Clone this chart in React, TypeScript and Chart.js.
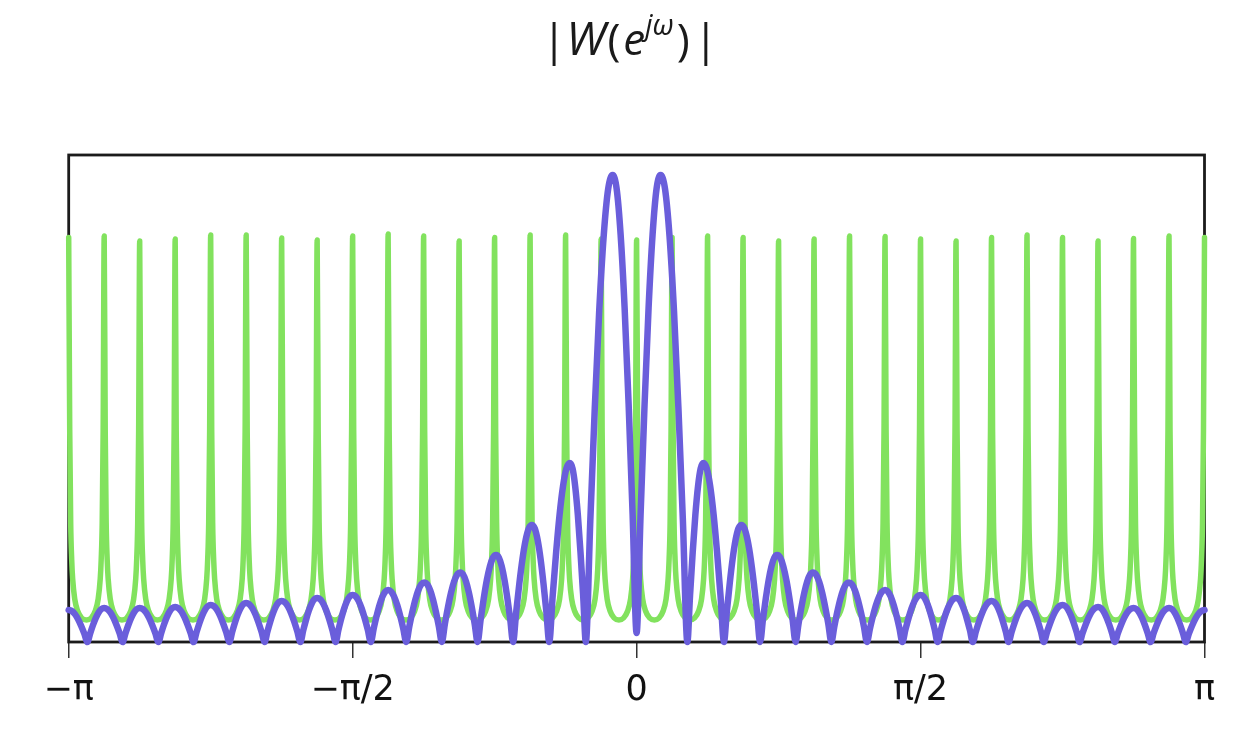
import React, { useEffect, useRef } from 'react';
import { Chart, registerables } from 'chart.js';

Chart.register(...registerables);

// x axis is in units of π (from −π to π)
const tickValues = [-1, -0.5, 0, 0.5, 1];
const tickLabels = ['−π', '−π/2', '0', 'π/2', 'π'];

// Green series: comb of narrow resonance peaks at k·π/16
const greenPeakX = [
  -1, -0.9375, -0.875, -0.8125, -0.75, -0.6875, -0.625, -0.5625, -0.5, -0.4375, -0.375,
  -0.3125, -0.25, -0.1875, -0.125, -0.0625, 0, 0.0625, 0.125, 0.1875, 0.25, 0.3125, 0.375,
  0.4375, 0.5, 0.5625, 0.625, 0.6875, 0.75, 0.8125, 0.875, 0.9375, 1,
];
const greenPeakY = [
  404.5, 406, 401, 403, 407, 407, 404, 402, 406, 408, 406, 401, 404.5, 407, 407, 403, 402,
  404.5, 406, 404.5, 401, 403, 406, 405.6, 403, 401, 404.5, 407, 404.5, 401, 403.5, 406, 404.5,
];
// shape of each green peak's flanks (offset from the peak, value)
const greenFlankOffset = [0.0018, 0.0035, 0.0053, 0.007, 0.0106, 0.0158, 0.0229];
const greenFlankY = [212, 119, 82, 63, 43, 31, 24];
const greenValleyOffset = 0.03125;
const greenValleyY = 22;

// Purple series (right half; the left half is its mirror image)
const purpleTroughX = [0, 0.0894, 0.1538, 0.2175, 0.28, 0.343, 0.4056, 0.468, 0.53, 0.592, 0.655, 0.717, 0.78, 0.842, 0.905, 0.967];
const purpleTroughY = [9, 0, 0, 0, 0, 0, 0, 0, 0, 0, 0, 0, 0, 0, 0, 0];
const purplePeakX = [0.0422, 0.1175, 0.1844, 0.2475, 0.3106, 0.3738, 0.4375, 0.5, 0.5625, 0.625, 0.6875, 0.75, 0.8125, 0.875, 0.9375, 1.0];
const purplePeakY = [467, 179, 117, 87, 69.5, 59.5, 52, 47, 44, 41, 39, 37, 35, 34, 34, 32];
// lobe outline between a trough and a peak (fraction of the way, fraction of the rise)
const archT = [0.167, 0.333, 0.5, 0.667, 0.833];
const archF = [0.26, 0.5, 0.71, 0.87, 0.97];

const GREEN = '#82e25e';
const PURPLE = '#6a5edb';

type P = { x: number; y: number };

function buildGreen(): P[] {
  const pts: P[] = [];
  const n = greenPeakX.length;
  for (let i = 0; i < n; i++) {
    const x = greenPeakX[i];
    if (i > 0) {
      for (let j = greenFlankOffset.length - 1; j >= 0; j--) {
        pts.push({ x: x - greenFlankOffset[j], y: greenFlankY[j] });
      }
    }
    pts.push({ x, y: greenPeakY[i] });
    if (i < n - 1) {
      for (let j = 0; j < greenFlankOffset.length; j++) {
        pts.push({ x: x + greenFlankOffset[j], y: greenFlankY[j] });
      }
      pts.push({ x: x + greenValleyOffset, y: greenValleyY });
    }
  }
  return pts;
}

type Node = { x: number; y: number; peak: boolean };

function buildPurple(): P[] {
  const right: Node[] = [];
  for (let i = 0; i < purpleTroughX.length; i++) {
    right.push({ x: purpleTroughX[i], y: purpleTroughY[i], peak: false });
    right.push({ x: purplePeakX[i], y: purplePeakY[i], peak: true });
  }
  const left: Node[] = right
    .slice(1)
    .map((n) => ({ x: -n.x, y: n.y, peak: n.peak }))
    .reverse();
  const nodes = [...left, ...right];
  const pts: P[] = [];
  for (let i = 0; i < nodes.length - 1; i++) {
    const a = nodes[i];
    const b = nodes[i + 1];
    pts.push({ x: a.x, y: a.y });
    for (let j = 0; j < archT.length; j++) {
      const x = a.x + (b.x - a.x) * archT[j];
      const y = a.peak
        ? b.y + (a.y - b.y) * archF[archF.length - 1 - j]
        : a.y + (b.y - a.y) * archF[j];
      pts.push({ x, y });
    }
  }
  const last = nodes[nodes.length - 1];
  pts.push({ x: last.x, y: last.y });
  return pts;
}

// title pieces: text, style, size, gap after, baseline shift
const titleParts = [
  { t: '|', style: '', size: 44, gap: 0, dy: 0 },
  { t: 'W', style: 'italic ', size: 46, gap: 2, dy: 0 },
  { t: '(', style: '', size: 44, gap: 3, dy: 0 },
  { t: 'e', style: 'italic ', size: 44, gap: 0, dy: 0 },
  { t: 'jω', style: 'italic ', size: 29, gap: 3, dy: -20 },
  { t: ')', style: '', size: 44, gap: 4, dy: 0 },
  { t: '|', style: '', size: 44, gap: 0, dy: 0 },
];

const framePlugin = {
  id: 'frame',
  beforeDatasetsDraw(chart: any) {
    const { ctx, chartArea } = chart;
    ctx.save();
    ctx.strokeStyle = '#1b1b1b';
    ctx.lineWidth = 2.8;
    ctx.strokeRect(chartArea.left, chartArea.top, chartArea.right - chartArea.left, chartArea.bottom - chartArea.top);
    ctx.restore();
  },
};

const titlePlugin = {
  id: 'mathTitle',
  afterDraw(chart: any) {
    const ctx = chart.ctx;
    ctx.save();
    ctx.fillStyle = '#1a1a1a';
    ctx.textBaseline = 'alphabetic';
    ctx.textAlign = 'left';
    const fam = '"Open Sans", "Noto Sans", sans-serif';
    const baseY = 55;
    let total = 0;
    const widths = titleParts.map((p, i) => {
      ctx.font = `${p.style}${p.size}px ${fam}`;
      const w = ctx.measureText(p.t).width;
      total += w + (i < titleParts.length - 1 ? p.gap : 0);
      return w;
    });
    let x = 630 - total / 2;
    titleParts.forEach((p, i) => {
      ctx.font = `${p.style}${p.size}px ${fam}`;
      ctx.fillText(p.t, x, baseY + p.dy);
      x += widths[i] + p.gap;
    });
    ctx.restore();
  },
};

export default function App() {
  const ref = useRef<HTMLCanvasElement | null>(null);
  useEffect(() => {
    if (!ref.current) return;
    const chart = new Chart(ref.current, {
      type: 'line',
      data: {
        datasets: [
          {
            label: 'purple',
            data: buildPurple(),
            borderColor: PURPLE,
            borderWidth: 6.5,
            pointRadius: 0,
            cubicInterpolationMode: 'monotone',
            borderJoinStyle: 'round',
            borderCapStyle: 'round',
            fill: false,
            clip: false as any,
            order: 0,
          },
          {
            label: 'green',
            data: buildGreen(),
            borderColor: GREEN,
            borderWidth: 5.5,
            pointRadius: 0,
            cubicInterpolationMode: 'monotone',
            borderJoinStyle: 'round',
            borderCapStyle: 'round',
            fill: false,
            clip: false as any,
            order: 1,
          },
        ],
      },
      options: {
        responsive: false,
        animation: false,
        parsing: false as any,
        normalized: true,
        layout: { padding: { left: 68.7, right: 29.5, top: 155, bottom: 0 } },
        plugins: {
          legend: { display: false },
          tooltip: { enabled: false },
          title: { display: false },
        },
        scales: {
          x: {
            type: 'linear',
            min: -1,
            max: 1,
            afterBuildTicks: (s: any) => {
              s.ticks = tickValues.map((v) => ({ value: v }));
            },
            afterFit: (s: any) => {
              s.height = 90;
            },
            grid: {
              display: true,
              drawOnChartArea: false,
              drawTicks: true,
              tickLength: 16,
              color: '#333',
              lineWidth: 1.5,
            },
            border: { display: false },
            ticks: {
              autoSkip: false,
              maxRotation: 0,
              padding: 12,
              color: '#111',
              font: { family: '"DejaVu Sans", sans-serif', size: 35 },
              callback: (v: any) => {
                const i = tickValues.indexOf(Number(v));
                return i >= 0 ? tickLabels[i] : '';
              },
            },
          },
          y: { display: false, min: 0, max: 487 },
        },
      },
      plugins: [framePlugin, titlePlugin],
    } as any);
    return () => chart.destroy();
  }, []);
  return (
    <div style={{ position: 'absolute', left: 0, top: 0, width: 1234, height: 732, background: '#fff' }}>
      <canvas ref={ref} width={1234} height={732} style={{ display: 'block' }} />
    </div>
  );
}
